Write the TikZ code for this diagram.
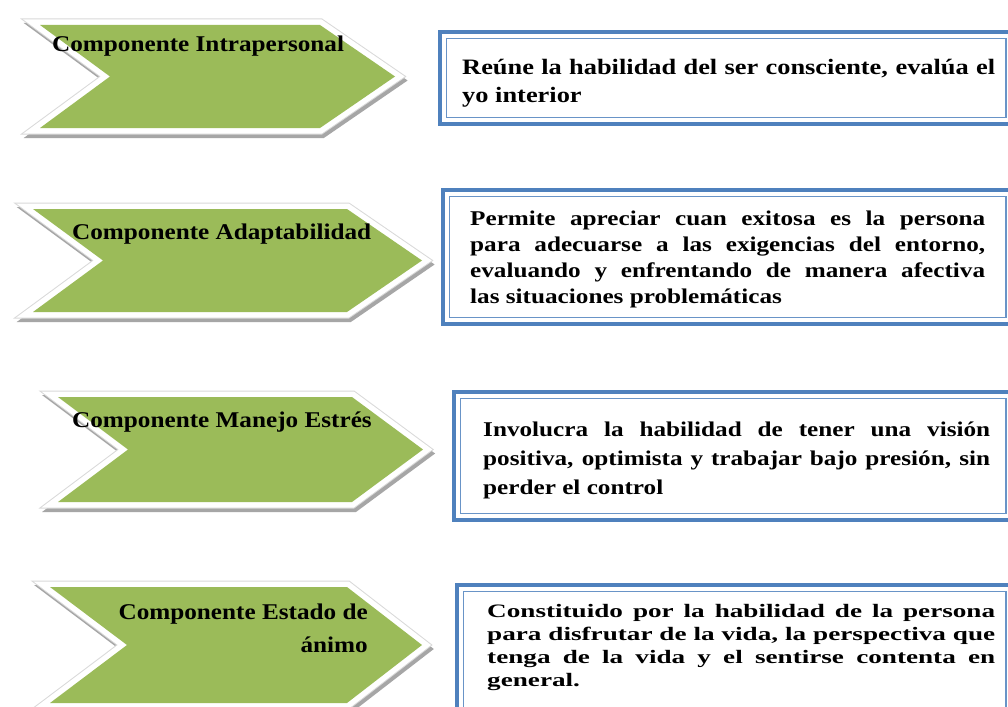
\documentclass[tikz,border=0pt]{standalone}
\usepackage{fontspec}
\setmainfont{Liberation Serif}
\newfontfamily\wa[FakeStretch=1.12]{Liberation Serif}
\newfontfamily\wc[FakeStretch=1.2]{Liberation Serif}
\newfontfamily\wb[FakeStretch=1.43]{Liberation Serif}
\definecolor{chgreen}{HTML}{9BBB59}
\definecolor{bxblue}{HTML}{4F81BD}
\tikzset{
  chshadow/.style={draw=black!35, fill=black!35, line width=12pt, line join=miter, shift={(2,4)}},
  chedge/.style={draw=black!15, line width=13pt, line join=miter},
  chframe/.style={draw=white, fill=white, line width=11pt, line join=miter},
  chfill/.style={fill=chgreen},
  ctext/.style={font=\wa\bfseries\fontsize{22.5}{26}\selectfont, inner sep=0pt},
  bxout/.style={draw=bxblue, line width=4.5pt},
  bxin/.style={draw=bxblue!85, line width=1.2pt},
  btext/.style={inner sep=0pt, anchor=base west, align=justify}
}
% L T B R X N
\newcommand{\mychev}[6]{%
  \draw[chshadow] (#1,#2) -- (#4,#2) -- (#5,{(#2+#3)/2}) -- (#4,#3) -- (#1,#3) -- (#6,{(#2+#3)/2}) -- cycle;
  \draw[chedge] (#1,#2) -- (#4,#2) -- (#5,{(#2+#3)/2}) -- (#4,#3) -- (#1,#3) -- (#6,{(#2+#3)/2}) -- cycle;
  \draw[chframe] (#1,#2) -- (#4,#2) -- (#5,{(#2+#3)/2}) -- (#4,#3) -- (#1,#3) -- (#6,{(#2+#3)/2}) -- cycle;
  \fill[chfill] (#1,#2) -- (#4,#2) -- (#5,{(#2+#3)/2}) -- (#4,#3) -- (#1,#3) -- (#6,{(#2+#3)/2}) -- cycle;
}
\begin{document}
\begin{tikzpicture}[x=1pt,y=-1pt]
\useasboundingbox[fill=white] (0,0) rectangle (1008,706);

% chevrons
\mychev{40}{25}{128}{320}{395}{110}
\mychev{33}{209}{312}{347}{422}{103}
\mychev{58}{397}{502}{352}{423}{128}
\mychev{50}{587}{703}{347}{422}{127}

\node[ctext, anchor=base west] (c1) at (52,52) {Componente Intrapersonal};
\node[ctext, anchor=base west] (c2) at (72,239) {Componente Adaptabilidad};
\node[ctext, anchor=base west] (c3) at (72,427) {Componente Manejo Estrés};
\node[ctext, anchor=base east] (c4) at (368,619) {Componente Estado de};
\node[ctext, anchor=base east] (c4b) at (368,652) {ánimo};

% boxes
\draw[bxout] (440,32) rectangle (1015,124);
\draw[bxin] (446.5,38.5) rectangle (1006,117.5);
\draw[bxout] (443,190) rectangle (1015,324);
\draw[bxin] (449.5,196.5) rectangle (1006,317.5);
\draw[bxout] (454,392) rectangle (1015,520);
\draw[bxin] (460.5,398.5) rectangle (1006,513.5);
\draw[bxout] (457,585) rectangle (1015,725);
\draw[bxin] (463.5,591.5) rectangle (1006,718.5);

\node[btext, text width=533pt, font=\wc\bfseries\fontsize{22}{28}\selectfont] (t1) at (462,75)
  {Reúne la habilidad del ser consciente, evalúa el\linebreak yo interior};
\node[btext, text width=515pt, font=\wc\bfseries\fontsize{21}{26}\selectfont] (t2) at (470,225)
  {Permite apreciar cuan exitosa es la persona\linebreak para adecuarse a las exigencias del entorno,\linebreak evaluando y enfrentando de manera afectiva\linebreak las situaciones problemáticas};
\node[btext, text width=507pt, font=\wc\bfseries\fontsize{21}{29}\selectfont] (t3) at (483,436)
  {Involucra la habilidad de tener una visión\linebreak positiva, optimista y trabajar bajo presión, sin\linebreak perder el control};
\node[btext, text width=508pt, font=\wb\bfseries\fontsize{19}{23.3}\selectfont] (t4) at (487,617)
  {Constituido por la habilidad de la persona\linebreak para disfrutar de la vida, la perspectiva que\linebreak tenga de la vida y el sentirse contenta en\linebreak general.};
\end{tikzpicture}
\end{document}
